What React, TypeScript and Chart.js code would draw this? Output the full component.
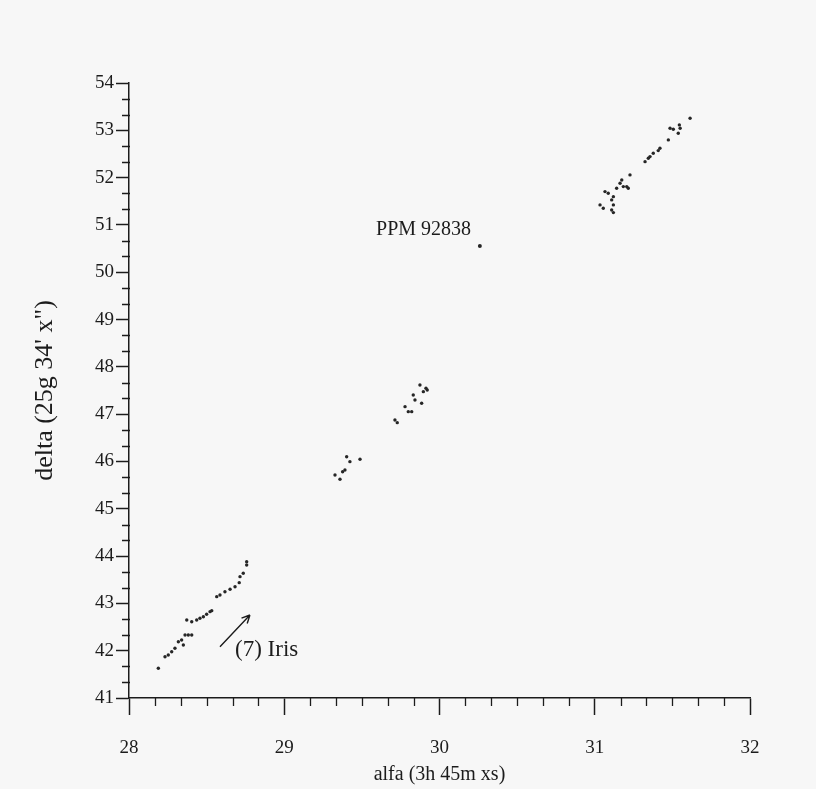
import React, { useEffect, useRef } from "react";
import { Chart, registerables } from "chart.js";

Chart.register(...registerables);

// Axis ranges and tick structure
const xMin = 28;
const xMax = 32;
const yMin = 41;
const yMax = 54;
const xMinorPerUnit = 6;
const yMinorPerUnit = 3;

const xTitle = "alfa (3h 45m xs)";
const yTitle = "delta (25g 34' x\")";

// Lower-left cluster (7) Iris
const lowX = [28.758, 28.758, 28.736, 28.715, 28.71, 28.683, 28.651, 28.618, 28.586, 28.565, 28.533, 28.522, 28.5, 28.479, 28.457, 28.436, 28.404, 28.372, 28.404, 28.382, 28.361, 28.35, 28.339, 28.318, 28.296, 28.275, 28.253, 28.232, 28.189];
const lowY = [43.882, 43.812, 43.636, 43.565, 43.438, 43.353, 43.298, 43.247, 43.178, 43.142, 42.846, 42.825, 42.77, 42.719, 42.685, 42.649, 42.613, 42.649, 42.332, 42.332, 42.332, 42.12, 42.226, 42.19, 42.051, 41.979, 41.909, 41.873, 41.628];

// Middle clusters
const midX = [29.874, 29.913, 29.921, 29.896, 29.831, 29.842, 29.885, 29.778, 29.799, 29.821, 29.713, 29.728, 29.402, 29.423, 29.488, 29.391, 29.376, 29.327, 29.359];
const midY = [47.617, 47.548, 47.512, 47.476, 47.406, 47.3, 47.23, 47.159, 47.053, 47.053, 46.877, 46.82, 46.101, 45.996, 46.046, 45.82, 45.784, 45.715, 45.624];

// Upper-right cluster
const highX = [31.614, 31.55, 31.545, 31.506, 31.485, 31.538, 31.474, 31.42, 31.409, 31.377, 31.356, 31.345, 31.324, 31.227, 31.174, 31.163, 31.184, 31.206, 31.216, 31.141, 31.066, 31.087, 31.12, 31.109, 31.12, 31.034, 31.055, 31.109, 31.12];
const highY = [53.256, 53.044, 53.114, 53.023, 53.044, 52.939, 52.797, 52.622, 52.571, 52.516, 52.444, 52.41, 52.338, 52.057, 51.951, 51.882, 51.81, 51.81, 51.776, 51.776, 51.704, 51.67, 51.598, 51.529, 51.423, 51.423, 51.353, 51.317, 51.26];

// Single star
const ppmX = [30.26];
const ppmY = [50.556];

// Annotations (data coordinates)
const ppmLabel = "PPM 92838";
const ppmLabelPos = [29.591, 50.894];
const irisLabel = "(7) Iris";
const irisLabelPos = [28.683, 42.015];
const irisArrowFrom = [28.586, 42.085];
const irisArrowTo = [28.779, 42.755];

const SERIF = "'Liberation Serif', 'DejaVu Serif', serif";
const INK = "#1c1c1c";

function zip(xs: number[], ys: number[]) {
  return xs.map((x, i) => ({ x, y: ys[i] }));
}

const backgroundPlugin = {
  id: "bg",
  beforeDraw(chart: any) {
    const { ctx, width, height } = chart;
    ctx.save();
    ctx.fillStyle = "#f7f7f7";
    ctx.fillRect(0, 0, width, height);
    ctx.restore();
  },
};

const minorTicksPlugin = {
  id: "minorTicks",
  afterDraw(chart: any) {
    const { ctx, chartArea } = chart;
    const xs = chart.scales.x;
    const ys = chart.scales.y;
    ctx.save();
    ctx.strokeStyle = INK;
    ctx.lineWidth = 1.3;
    ctx.beginPath();
    const nx = (xMax - xMin) * xMinorPerUnit;
    for (let i = 1; i < nx; i++) {
      if (i % xMinorPerUnit === 0) continue;
      const px = Math.round(xs.getPixelForValue(xMin + i / xMinorPerUnit)) + 0.5;
      ctx.moveTo(px, chartArea.bottom);
      ctx.lineTo(px, chartArea.bottom + 8);
    }
    const ny = (yMax - yMin) * yMinorPerUnit;
    for (let i = 1; i < ny; i++) {
      if (i % yMinorPerUnit === 0) continue;
      const py = Math.round(ys.getPixelForValue(yMin + i / yMinorPerUnit)) + 0.5;
      ctx.moveTo(chartArea.left - 7, py);
      ctx.lineTo(chartArea.left + 1, py);
    }
    ctx.stroke();
    ctx.restore();
  },
};

const annotationPlugin = {
  id: "annotations",
  afterDatasetsDraw(chart: any) {
    const { ctx } = chart;
    const xs = chart.scales.x;
    const ys = chart.scales.y;
    const P = (p: number[]) => [xs.getPixelForValue(p[0]), ys.getPixelForValue(p[1])];
    ctx.save();
    ctx.fillStyle = INK;
    ctx.strokeStyle = INK;
    ctx.textBaseline = "middle";
    ctx.textAlign = "left";
    ctx.font = `20px ${SERIF}`;
    const [lx, ly] = P(ppmLabelPos);
    ctx.fillText(ppmLabel, lx, ly);
    ctx.font = `23px ${SERIF}`;
    const [ix, iy] = P(irisLabelPos);
    ctx.fillText(irisLabel, ix, iy);
    const [ax, ay] = P(irisArrowFrom);
    const [bx, by] = P(irisArrowTo);
    ctx.lineWidth = 1.4;
    ctx.beginPath();
    ctx.moveTo(ax, ay);
    ctx.lineTo(bx, by);
    const ang = Math.atan2(by - ay, bx - ax);
    const hl = 9;
    ctx.moveTo(bx, by);
    ctx.lineTo(bx - hl * Math.cos(ang - 0.45), by - hl * Math.sin(ang - 0.45));
    ctx.moveTo(bx, by);
    ctx.lineTo(bx - hl * Math.cos(ang + 0.45), by - hl * Math.sin(ang + 0.45));
    ctx.stroke();
    ctx.restore();
  },
};

export default function App() {
  const canvasRef = useRef<HTMLCanvasElement | null>(null);

  useEffect(() => {
    if (!canvasRef.current) return;
    const pointStyle = {
      pointRadius: 1.7,
      pointBackgroundColor: "#262626",
      pointBorderWidth: 0,
      showLine: false,
    };
    const chart = new Chart(canvasRef.current, {
      type: "scatter",
      data: {
        datasets: [
          { label: "low", data: zip(lowX, lowY), ...pointStyle },
          { label: "mid", data: zip(midX, midY), ...pointStyle },
          { label: "high", data: zip(highX, highY), ...pointStyle },
          { label: "ppm", data: zip(ppmX, ppmY), ...pointStyle, pointRadius: 2 },
        ],
      },
      options: {
        responsive: false,
        animation: false,
        events: [],
        layout: { padding: { top: 83, right: 66, left: 0, bottom: 0 } },
        plugins: {
          legend: { display: false },
          tooltip: { enabled: false },
          title: { display: false },
        },
        scales: {
          x: {
            type: "linear",
            min: xMin,
            max: xMax,
            afterFit: (s: any) => {
              s.height = 91;
            },
            ticks: {
              stepSize: 1,
              color: INK,
              font: { family: SERIF, size: 19 },
              padding: 22,
            },
            grid: {
              drawOnChartArea: false,
              drawTicks: true,
              tickLength: 17,
              tickColor: INK,
              tickWidth: 1.5,
            },
            border: { display: true, color: INK, width: 1.5 },
            title: {
              display: true,
              text: xTitle,
              color: INK,
              font: { family: SERIF, size: 20 },
              padding: { top: 0, bottom: 2 },
            },
          },
          y: {
            type: "linear",
            min: yMin,
            max: yMax,
            afterFit: (s: any) => {
              s.width = 129;
            },
            ticks: {
              stepSize: 1,
              color: INK,
              font: { family: SERIF, size: 19 },
              padding: 2,
            },
            grid: {
              drawOnChartArea: false,
              drawTicks: true,
              tickLength: 13,
              tickColor: INK,
              tickWidth: 1.5,
            },
            border: { display: true, color: INK, width: 1.5 },
            title: {
              display: true,
              text: yTitle,
              color: INK,
              font: { family: SERIF, size: 26 },
              padding: { top: 30, bottom: 0 },
            },
          },
        },
      },
      plugins: [backgroundPlugin, minorTicksPlugin, annotationPlugin],
    });
    return () => chart.destroy();
  }, []);

  return (
    <div style={{ position: "absolute", left: 0, top: 0, width: 816, height: 789 }}>
      <canvas ref={canvasRef} width={816} height={789} style={{ display: "block" }} />
    </div>
  );
}
